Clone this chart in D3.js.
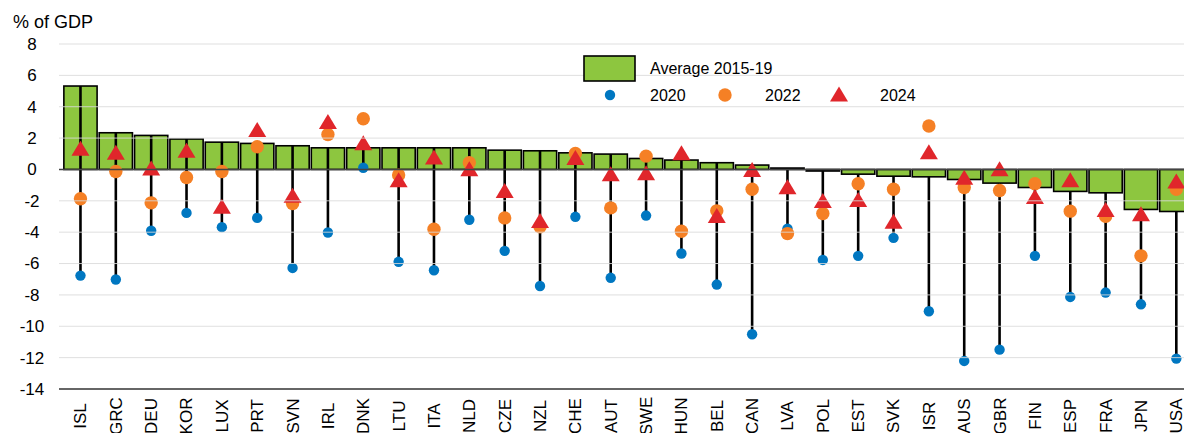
<!DOCTYPE html>
<html><head><meta charset="utf-8">
<script src="https://cdn.jsdelivr.net/npm/d3@7"></script>
<style>body{margin:0;background:#fff}svg{display:block;font-family:"Liberation Sans",Arial,sans-serif}</style>
</head><body>
<script>
const categories = ["ISL","GRC","DEU","KOR","LUX","PRT","SVN","IRL","DNK","LTU","ITA","NLD","CZE","NZL","CHE","AUT","SWE","HUN","BEL","CAN","LVA","POL","EST","SVK","ISR","AUS","GBR","FIN","ESP","FRA","JPN","USA"];
const avg2015_19 = [5.32,2.34,2.17,1.94,1.74,1.66,1.51,1.38,1.38,1.38,1.38,1.38,1.23,1.19,1.06,0.98,0.70,0.60,0.43,0.28,0.09,-0.10,-0.30,-0.43,-0.47,-0.64,-0.87,-1.15,-1.40,-1.49,-2.55,-2.68];
const v2020 = [-6.77,-7.02,-3.91,-2.77,-3.68,-3.09,-6.28,-4.02,0.11,-5.89,-6.43,-3.21,-5.19,-7.43,-3.02,-6.91,-2.94,-5.36,-7.34,-10.51,-3.77,-5.77,-5.51,-4.36,-9.04,-12.21,-11.49,-5.51,-8.13,-7.85,-8.60,-12.06];
const v2022 = [-1.87,-0.13,-2.13,-0.51,-0.13,1.45,-2.17,2.23,3.23,-0.36,-3.81,0.43,-3.09,-3.66,1.02,-2.45,0.85,-3.94,-2.64,-1.26,-4.09,-2.81,-0.91,-1.26,2.77,-1.15,-1.34,-0.91,-2.66,-2.98,-5.51,-1.26];
const v2024 = [1.35,1.1,0.1,1.23,-2.34,2.55,-1.64,3.06,1.7,-0.66,0.79,0.04,-1.34,-3.26,0.77,-0.28,-0.21,1.06,-2.94,0.0,-1.11,-1.98,-1.91,-3.3,1.13,-0.49,0.04,-1.72,-0.66,-2.55,-2.83,-0.74];
const yTicks = [8,6,4,2,0,-2,-4,-6,-8,-10,-12,-14];
const seriesNames = ["Average 2015-19","2020","2022","2024"];

const W = 1184, H = 433;
const C = {green:"#8dc63f", blue:"#0077c1", orange:"#f58025", red:"#e0262b"};
const svg = d3.select("body").append("svg").attr("width", W).attr("height", H);
const x = d3.scaleBand().domain(categories).range([62.8, 1194]).paddingInner(0.06).paddingOuter(0.03);
const y = d3.scaleLinear().domain([-14, 8]).range([389, 44]);
const cx = c => x(c) + x.bandwidth()/2;
const data = categories.map((c,i)=>({c, a:avg2015_19[i], b:v2020[i], o:v2022[i], t:v2024[i]}));

// bars
svg.append("g").selectAll("rect").data(data).join("rect")
  .attr("x", d=>x(d.c)).attr("width", x.bandwidth())
  .attr("y", d=>y(Math.max(0,d.a))).attr("height", d=>Math.abs(y(d.a)-y(0)))
  .attr("fill", C.green).attr("stroke", "#000").attr("stroke-width", 1.6);
// stems
svg.append("g").selectAll("line").data(data).join("line")
  .attr("x1", d=>cx(d.c)).attr("x2", d=>cx(d.c))
  .attr("y1", d=>y(d.a)).attr("y2", d=>y(d.b))
  .attr("stroke", "#000").attr("stroke-width", 2.6);
// 2020
svg.append("g").selectAll("circle").data(data).join("circle")
  .attr("cx", d=>cx(d.c)).attr("cy", d=>y(d.b)).attr("r", 5.2).attr("fill", C.blue);
// 2022
svg.append("g").selectAll("circle").data(data).join("circle")
  .attr("cx", d=>cx(d.c)).attr("cy", d=>y(d.o)).attr("r", 6.7).attr("fill", C.orange);
// 2024
const tri = "M0,-7.5L9,7.5L-9,7.5Z";
svg.append("g").selectAll("path").data(data).join("path")
  .attr("d", tri).attr("transform", d=>`translate(${cx(d.c)},${y(d.t)})`).attr("fill", C.red);

// gridlines on top
svg.append("g").selectAll("line").data(yTicks.filter(t=>t!==0 && t!==-14)).join("line")
  .attr("x1", 59).attr("x2", W).attr("y1", d=>y(d)).attr("y2", d=>y(d))
  .attr("stroke", "#d9d9d9").attr("stroke-opacity", 0.85).attr("stroke-width", 1);
svg.append("line").attr("x1", 59).attr("x2", W).attr("y1", y(0)).attr("y2", y(0))
  .attr("stroke", "#444").attr("stroke-width", 1.4);
svg.append("line").attr("x1", 59).attr("x2", W).attr("y1", y(-14)).attr("y2", y(-14))
  .attr("stroke", "#666").attr("stroke-width", 1.8);

// y tick labels
svg.append("g").selectAll("text").data(yTicks).join("text")
  .attr("x", 32).attr("y", d=>y(d)).attr("dy", "0.35em").attr("text-anchor", "middle")
  .attr("font-size", 17).attr("fill", "#000").text(d=>d);
svg.append("text").attr("x", 13).attr("y", 28).attr("font-size", 18).text("% of GDP");

// x labels
svg.append("g").selectAll("text").data(categories).join("text")
  .attr("transform", d=>`translate(${cx(d)},416) rotate(-90)`)
  .attr("text-anchor", "middle").attr("dy", "0.35em").attr("font-size", 17).text(d=>d);

// legend
const lg = svg.append("g").attr("font-size", 16);
lg.append("rect").attr("x", 584).attr("y", 56).attr("width", 51).attr("height", 25)
  .attr("fill", C.green).attr("stroke", "#000").attr("stroke-width", 1.6);
lg.append("text").attr("x", 650).attr("y", 74).text(seriesNames[0]);
lg.append("circle").attr("cx", 610).attr("cy", 95).attr("r", 5.2).attr("fill", C.blue);
lg.append("text").attr("x", 650).attr("y", 101).text(seriesNames[1]);
lg.append("circle").attr("cx", 725).attr("cy", 95).attr("r", 6.7).attr("fill", C.orange);
lg.append("text").attr("x", 765).attr("y", 101).text(seriesNames[2]);
lg.append("path").attr("d", tri).attr("transform", "translate(839,94)").attr("fill", C.red);
lg.append("text").attr("x", 880).attr("y", 101).text(seriesNames[3]);
</script>
</body></html>
